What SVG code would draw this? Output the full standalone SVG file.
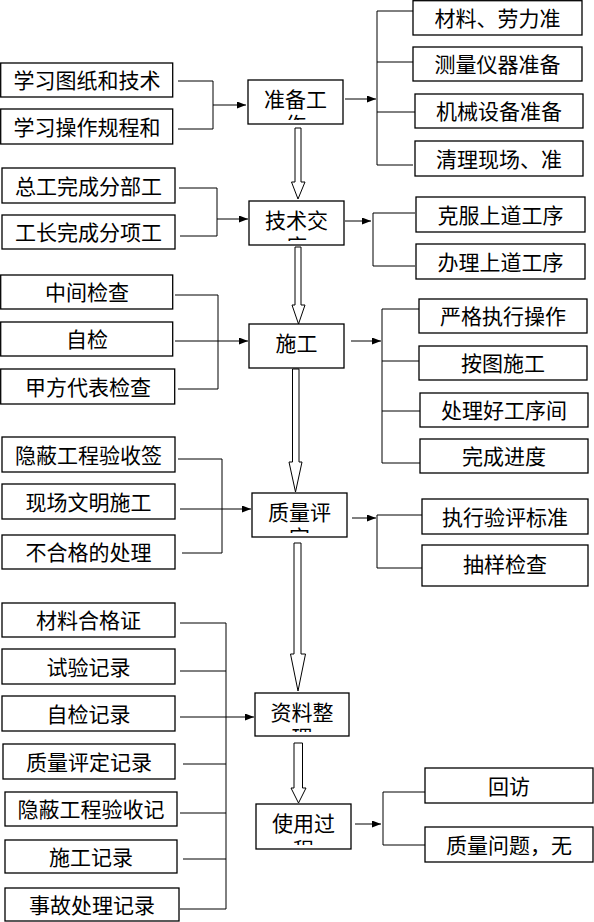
<svg xmlns="http://www.w3.org/2000/svg" width="594" height="922" viewBox="0 0 594 922">
<style>
.box{fill:#fff;stroke:#000;stroke-width:1.3}
.ln{fill:none;stroke:#000;stroke-width:1}
.ha{fill:#fff;stroke:#000;stroke-width:1}
.t{font-family:"Noto Sans CJK SC","Noto Sans CJK JP",sans-serif;font-size:21px;text-anchor:middle;fill:#000}
</style>
<defs>
<marker id="ah" markerUnits="userSpaceOnUse" markerWidth="9" markerHeight="7" refX="9" refY="3.5" orient="auto">
<path d="M0,0 L9,3.5 L0,7 z" fill="#000"/>
</marker>
<clipPath id="c1"><rect x="249" y="81" width="93" height="39"/></clipPath>
<clipPath id="c2"><rect x="250" y="202" width="93" height="39"/></clipPath>
<clipPath id="c4"><rect x="253" y="494" width="93" height="39"/></clipPath>
<clipPath id="c5"><rect x="256" y="694" width="92" height="38"/></clipPath>
<clipPath id="c6"><rect x="257" y="805" width="93" height="40"/></clipPath>
</defs>
<rect width="594" height="922" fill="#fff"/>

<g id="connectors">
<!-- prep -->
<polyline class="ln" points="178,81 213,81 213,129 178,129"/>
<line class="ln" x1="213" y1="105" x2="246" y2="105" marker-end="url(#ah)"/>
<line class="ln" x1="345" y1="99" x2="376" y2="99" marker-end="url(#ah)"/>
<polyline class="ln" points="413,11 377,11 377,165 413,165"/>
<line class="ln" x1="377" y1="62" x2="413" y2="62"/>
<line class="ln" x1="377" y1="112" x2="415" y2="112"/>
<!-- tech -->
<polyline class="ln" points="179,188 217,188 217,236 180,236"/>
<line class="ln" x1="217" y1="219" x2="248" y2="219" marker-end="url(#ah)"/>
<line class="ln" x1="345" y1="221" x2="371" y2="221" marker-end="url(#ah)"/>
<polyline class="ln" points="415,213 373,213 373,266 415,266"/>
<!-- construction -->
<polyline class="ln" points="175,295 218,295 218,389 178,389"/>
<line class="ln" x1="175" y1="341" x2="248" y2="341" marker-end="url(#ah)"/>
<line class="ln" x1="351" y1="341" x2="381" y2="341" marker-end="url(#ah)"/>
<polyline class="ln" points="419,309 382,309 382,463 420,463"/>
<line class="ln" x1="382" y1="361" x2="419" y2="361"/>
<line class="ln" x1="382" y1="411" x2="420" y2="411"/>
<!-- quality -->
<polyline class="ln" points="178,459 222,459 222,553 182,553"/>
<line class="ln" x1="180" y1="509" x2="251" y2="509" marker-end="url(#ah)"/>
<line class="ln" x1="352" y1="518" x2="376" y2="518" marker-end="url(#ah)"/>
<polyline class="ln" points="422,515 377,515 377,568 422,568"/>
<!-- records -->
<polyline class="ln" points="180,623 226,623 226,909 180,909"/>
<line class="ln" x1="180" y1="671" x2="226" y2="671"/>
<line class="ln" x1="183" y1="764" x2="226" y2="764"/>
<line class="ln" x1="180" y1="813" x2="226" y2="813"/>
<line class="ln" x1="183" y1="859" x2="226" y2="859"/>
<line class="ln" x1="180" y1="717" x2="254" y2="717" marker-end="url(#ah)"/>
<!-- use -->
<line class="ln" x1="355" y1="824" x2="381" y2="824" marker-end="url(#ah)"/>
<polyline class="ln" points="425,792 383,792 383,845 425,845"/>
<!-- hollow arrows -->
<polygon class="ha" points="295,128 301,128 301,182 305,182 298,199 291.5,182 295,182"/>
<polygon class="ha" points="295,247 301,247 301,305 305,305 298.5,324 292,305 295,305"/>
<polygon class="ha" points="292.5,369 299,369 299,462 302,462 295.5,492 289,462 292.5,462"/>
<polygon class="ha" points="294,543 301,543 301,654 305.5,654 298,691 290.5,654 294,654"/>
<polygon class="ha" points="294,743 302.5,743 302.5,788 306,788 298.5,803 291,788 294,788"/>
</g>

<!-- left nodes -->
<g id="n-l1"><rect class="box" x="0.7" y="63" width="172" height="34"/><text class="t" x="87" y="88">学习图纸和技术</text></g>
<g id="n-l2"><rect class="box" x="0.7" y="109" width="172" height="35"/><text class="t" x="87" y="134.5">学习操作规程和</text></g>
<g id="n-l3"><rect class="box" x="2" y="168" width="173" height="35"/><text class="t" x="88.5" y="193.5">总工完成分部工</text></g>
<g id="n-l4"><rect class="box" x="2" y="215" width="173" height="34"/><text class="t" x="88.5" y="240">工长完成分项工</text></g>
<g id="n-l5"><rect class="box" x="0.7" y="275" width="172" height="34"/><text class="t" x="87" y="300">中间检查</text></g>
<g id="n-l6"><rect class="box" x="0.7" y="322" width="172" height="34"/><text class="t" x="87" y="347">自检</text></g>
<g id="n-l7"><rect class="box" x="0.7" y="369" width="174" height="35"/><text class="t" x="88" y="394.5">甲方代表检查</text></g>
<g id="n-l8"><rect class="box" x="2" y="437" width="173" height="35"/><text class="t" x="88.5" y="462.5">隐蔽工程验收签</text></g>
<g id="n-l9"><rect class="box" x="2" y="484" width="173" height="35"/><text class="t" x="88.5" y="509.5">现场文明施工</text></g>
<g id="n-l10"><rect class="box" x="2" y="535" width="173" height="34"/><text class="t" x="88.5" y="560">不合格的处理</text></g>
<g id="n-l11"><rect class="box" x="2" y="603" width="173" height="34"/><text class="t" x="88.5" y="628">材料合格证</text></g>
<g id="n-l12"><rect class="box" x="2" y="649" width="173" height="35"/><text class="t" x="88.5" y="674.5">试验记录</text></g>
<g id="n-l13"><rect class="box" x="2" y="696" width="173" height="35"/><text class="t" x="88.5" y="721.5">自检记录</text></g>
<g id="n-l14"><rect class="box" x="3" y="744" width="172" height="35"/><text class="t" x="89" y="769.5">质量评定记录</text></g>
<g id="n-l15"><rect class="box" x="5" y="792" width="172" height="34"/><text class="t" x="91" y="817">隐蔽工程验收记</text></g>
<g id="n-l16"><rect class="box" x="5" y="840" width="172" height="33"/><text class="t" x="91" y="864.5">施工记录</text></g>
<g id="n-l17"><rect class="box" x="5" y="888" width="174" height="33"/><text class="t" x="92" y="912.5">事故处理记录</text></g>

<!-- center nodes -->
<g id="n-prep"><rect class="box" x="248" y="80" width="95" height="44"/><text class="t" clip-path="url(#c1)" x="295.5"><tspan x="295.5" y="106.5">准备工</tspan><tspan x="295.5" y="132">作</tspan></text></g>
<g id="n-tech"><rect class="box" x="249" y="201" width="95" height="44"/><text class="t" clip-path="url(#c2)" x="296.5"><tspan x="296.5" y="228">技术交</tspan><tspan x="296.5" y="253.5">底</tspan></text></g>
<g id="n-build"><rect class="box" x="249" y="324" width="95" height="44"/><text class="t" x="296.5" y="350.5">施工</text></g>
<g id="n-qual"><rect class="box" x="252" y="493" width="95" height="44"/><text class="t" clip-path="url(#c4)" x="299.5"><tspan x="299.5" y="519.5">质量评</tspan><tspan x="299.5" y="545">定</tspan></text></g>
<g id="n-docs"><rect class="box" x="255" y="693" width="94" height="43"/><text class="t" clip-path="url(#c5)" x="302"><tspan x="302" y="719.5">资料整</tspan><tspan x="302" y="745">理</tspan></text></g>
<g id="n-use"><rect class="box" x="256" y="804" width="95" height="45"/><text class="t" clip-path="url(#c6)" x="303.5"><tspan x="303.5" y="831">使用过</tspan><tspan x="303.5" y="856.5">程</tspan></text></g>

<!-- right nodes -->
<g id="n-r1"><rect class="box" x="413" y="0.7" width="169" height="34.3"/><text class="t" x="497.5" y="26">材料、劳力准</text></g>
<g id="n-r2"><rect class="box" x="413" y="47" width="169" height="34"/><text class="t" x="497.5" y="72">测量仪器准备</text></g>
<g id="n-r3"><rect class="box" x="415" y="94" width="168" height="34"/><text class="t" x="499" y="119">机械设备准备</text></g>
<g id="n-r4"><rect class="box" x="415" y="141" width="168" height="35"/><text class="t" x="499" y="166.5">清理现场、准</text></g>
<g id="n-r5"><rect class="box" x="416" y="197" width="169" height="35"/><text class="t" x="500.5" y="222.5">克服上道工序</text></g>
<g id="n-r6"><rect class="box" x="416" y="244" width="169" height="35"/><text class="t" x="500.5" y="269.5">办理上道工序</text></g>
<g id="n-r7"><rect class="box" x="419" y="299" width="168" height="34"/><text class="t" x="503" y="324">严格执行操作</text></g>
<g id="n-r8"><rect class="box" x="419" y="346" width="168" height="34"/><text class="t" x="503" y="371">按图施工</text></g>
<g id="n-r9"><rect class="box" x="420" y="393" width="168" height="34"/><text class="t" x="504" y="418">处理好工序间</text></g>
<g id="n-r10"><rect class="box" x="420" y="439" width="168" height="34"/><text class="t" x="504" y="464">完成进度</text></g>
<g id="n-r11"><rect class="box" x="422" y="499" width="166" height="35"/><text class="t" x="505" y="524.5">执行验评标准</text></g>
<g id="n-r12"><rect class="box" x="422" y="545" width="166" height="41"/><text class="t" x="505" y="571.5">抽样检查</text></g>
<g id="n-r13"><rect class="box" x="425" y="768" width="168" height="35"/><text class="t" x="509" y="793.5">回访</text></g>
<g id="n-r14"><rect class="box" x="425" y="827" width="168" height="35"/><text class="t" x="509" y="852.5">质量问题，无</text></g>
</svg>
